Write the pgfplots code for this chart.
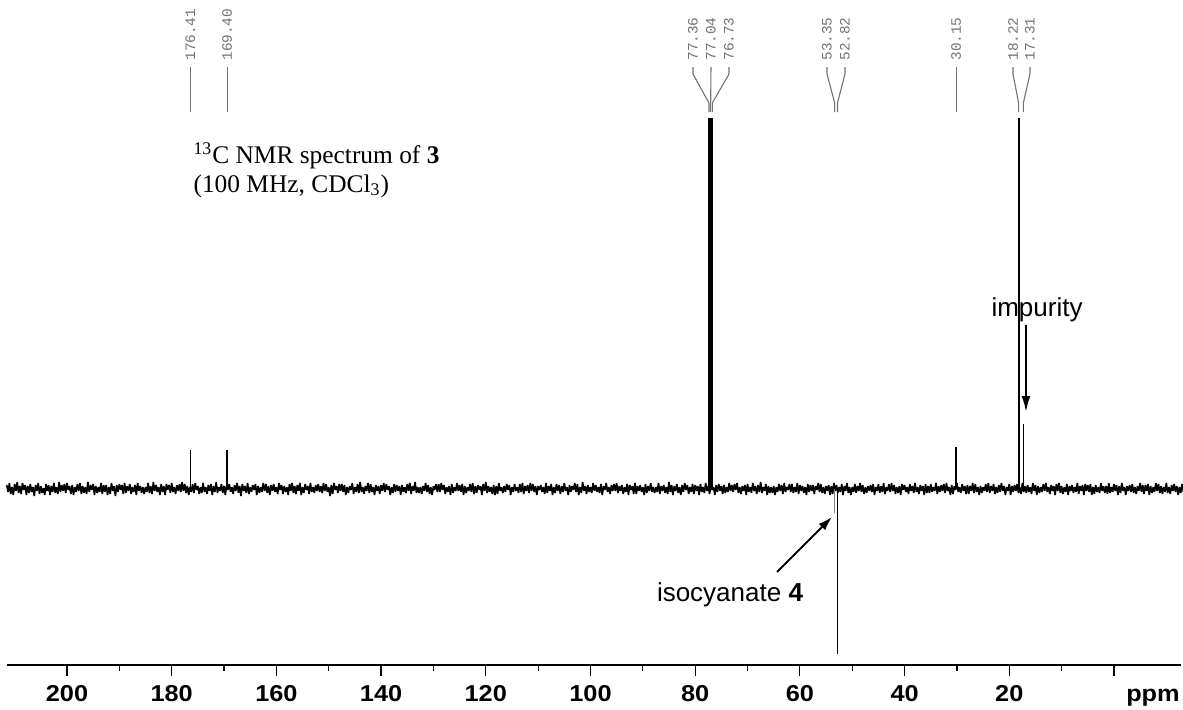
\documentclass[border=0pt]{standalone}
\usepackage{fontspec}
\setmainfont{Liberation Sans}
\newfontfamily\serif{Liberation Serif}
\newfontfamily\monof{Liberation Mono}
\newfontfamily\tickf{Liberation Sans}[FakeStretch=1.1]
\usepackage{pgfplots}
\pgfplotsset{compat=1.18}
\usepackage{pgfplotstable}
\usetikzlibrary{arrows.meta}

% baseline noise, one value every 0.25 ppm from 211.5 ppm downwards
\pgfplotstableread[header=false,row sep=\\]{
4\\-3\\6\\-5\\2\\-6\\5\\-2\\7\\-4\\3\\-5\\6\\-1\\4\\
-6\\3\\-4\\5\\-3\\2\\-7\\4\\-2\\6\\-5\\3\\-4\\1\\-6\\
5\\-2\\4\\-6\\3\\-3\\6\\-4\\2\\-5\\7\\-3\\4\\-2\\5\\
-4\\6\\-1\\3\\-5\\4\\-6\\2\\-3\\5\\-2\\6\\-5\\3\\-4\\
2\\-5\\7\\-3\\4\\-1\\5\\-6\\3\\-4\\2\\-3\\6\\-5\\4\\
-3\\4\\-6\\2\\-5\\6\\-2\\3\\-7\\4\\-3\\5\\-1\\4\\-5\\
6\\-4\\3\\-2\\5\\-5\\2\\-3\\4\\-6\\6\\-2\\3\\-4\\2\\
-5\\2\\-3\\6\\-4\\3\\-5\\7\\-2\\4\\-3\\2\\-6\\5\\-3\\
3\\-6\\5\\-1\\4\\-4\\6\\-3\\2\\-5\\4\\-2\\5\\-3\\7\\
-2\\5\\-4\\3\\-6\\2\\-3\\5\\-4\\6\\-1\\3\\-5\\2\\-4\\
6\\-3\\2\\-5\\4\\-2\\5\\-6\\3\\-3\\7\\-4\\2\\-2\\5\\
-4\\3\\-6\\4\\-1\\5\\-3\\2\\-5\\4\\-2\\6\\-4\\3\\-7\\
5\\-2\\3\\-4\\6\\-5\\2\\-3\\4\\-1\\5\\-6\\3\\-4\\2\\
-3\\6\\-2\\5\\-4\\3\\-6\\4\\-2\\5\\-3\\2\\-5\\6\\-1\\
4\\-5\\3\\-3\\2\\-6\\5\\-2\\6\\-4\\3\\-5\\4\\-2\\6\\
-6\\2\\-4\\5\\-1\\3\\-5\\6\\-3\\2\\-4\\4\\-2\\5\\-3\\
3\\-4\\6\\-2\\5\\-3\\2\\-7\\4\\-5\\6\\-1\\3\\-4\\5\\
-2\\5\\-3\\4\\-6\\2\\-4\\3\\-1\\6\\-5\\2\\-3\\5\\-4\\
7\\-3\\2\\-5\\3\\-2\\6\\-4\\5\\-3\\2\\-6\\4\\-2\\3\\
-5\\4\\-2\\6\\-3\\5\\-1\\3\\-6\\2\\-4\\5\\-3\\4\\-2\\
3\\-6\\4\\-3\\2\\-4\\5\\-2\\6\\-5\\3\\-2\\7\\-4\\2\\
-4\\2\\-5\\3\\-2\\6\\-3\\4\\-5\\2\\-6\\3\\-1\\5\\-3\\
5\\-3\\6\\-1\\4\\-5\\2\\-3\\3\\-6\\5\\-4\\2\\-2\\6\\
-2\\4\\-3\\5\\-6\\3\\-4\\2\\-2\\5\\-3\\6\\-5\\3\\-4\\
4\\-1\\3\\-6\\5\\-2\\7\\-4\\3\\-3\\2\\-5\\4\\-6\\3\\
-5\\6\\-2\\2\\-4\\3\\-3\\5\\-1\\4\\-6\\2\\-3\\5\\-2\\
2\\-4\\5\\-3\\6\\-5\\3\\-2\\4\\-4\\6\\-2\\5\\-3\\3\\
-6\\3\\-1\\4\\-3\\2\\-5\\6\\-4\\3\\-2\\5\\-6\\2\\-4\\
5\\-2\\4\\-5\\3\\-3\\6\\-2\\2\\-6\\4\\-3\\3\\-1\\6\\
-3\\5\\-6\\2\\-4\\7\\-2\\3\\-5\\4\\-3\\2\\-4\\6\\-2\\
4\\-3\\2\\-4\\5\\-6\\3\\-1\\6\\-3\\2\\-5\\4\\-2\\5\\
-2\\6\\-4\\3\\-2\\4\\-5\\2\\-3\\5\\-6\\4\\-1\\3\\-5\\
6\\-5\\3\\-2\\4\\-3\\2\\-6\\5\\-4\\3\\-2\\6\\-3\\2\\
-4\\2\\-3\\6\\-5\\3\\-2\\4\\-4\\2\\-5\\7\\-3\\4\\-6\\
3\\-2\\5\\-4\\2\\-6\\4\\-3\\6\\-1\\4\\-5\\2\\-3\\5\\
-5\\4\\-2\\3\\-6\\5\\-3\\2\\-4\\6\\-2\\3\\-5\\4\\-1\\
2\\-6\\4\\-3\\5\\-2\\3\\-5\\4\\-4\\2\\-3\\6\\-2\\4\\
-3\\5\\-1\\6\\-4\\2\\-5\\3\\-2\\4\\-6\\5\\-3\\2\\-4\\
6\\-2\\3\\-5\\4\\-3\\7\\-4\\2\\-2\\5\\-6\\3\\-4\\2\\
-4\\3\\-6\\2\\-3\\5\\-2\\4\\-5\\6\\-3\\2\\-1\\5\\-3\\
5\\-4\\2\\-3\\6\\-5\\4\\-2\\3\\-4\\2\\-6\\5\\-3\\4\\
-2\\4\\-5\\3\\-1\\6\\-3\\5\\-4\\2\\-5\\3\\-2\\4\\-6\\
3\\-5\\6\\-2\\4\\-4\\2\\-3\\5\\-6\\3\\-2\\6\\-4\\2\\
-6\\2\\-3\\5\\-4\\3\\-2\\6\\-3\\4\\-5\\2\\-4\\3\\-2\\
4\\-3\\5\\-6\\2\\-2\\5\\-4\\3\\-3\\6\\-5\\2\\-2\\5\\
-3\\6\\-2\\4\\-5\\2\\-4\\3\\-6\\5\\-1\\4\\-3\\2\\-5\\
5\\-2\\3\\-4\\6\\-3\\2\\-5\\4\\-2\\3\\-6\\5\\-4\\3\\
-4\\5\\-3\\2\\-2\\6\\-5\\3\\-3\\4\\-2\\5\\-4\\6\\-2\\
2\\-6\\4\\-5\\3\\-1\\6\\-3\\2\\-4\\5\\-2\\3\\-5\\4\\
-5\\3\\-2\\6\\-4\\5\\-3\\2\\-6\\3\\-4\\2\\-2\\5\\-3\\
6\\-4\\3\\-2\\5\\-5\\2\\-4\\4\\-3\\6\\-2\\3\\-6\\2\\
-2\\5\\-6\\3\\-3\\4\\-2\\5\\-4\\2\\-5\\6\\-3\\3\\-4\\
4\\-3\\2\\-5\\6\\-2\\4\\-6\\3\\-4\\2\\-3\\5\\-2\\6\\
-3\\2\\-5\\4\\-2\\3\\-6\\5\\-2\\6\\-4\\3\\-5\\2\\-3\\
5\\-6\\3\\-2\\4\\-4\\2\\-3\\6\\-5\\3\\-2\\4\\-6\\5\\
-2\\4\\-3\\5\\-6\\2\\-5\\4\\-3\\2\\-4\\6\\-2\\3\\-4\\
3\\-5\\6\\-4\\2\\-3\\5\\-2\\4\\-6\\3\\-4\\6\\-2\\2\\
-6\\3\\-2\\4\\-3\\5\\-4\\2\\-5\\3\\-2\\6\\-3\\4\\-5\\
4\\-2\\5\\-6\\3\\-4\\2\\-3\\6\\-2\\5\\-4\\3\\-5\\2\\
-3\\6\\-4\\2\\-5\\4\\-2\\5\\-3\\3\\-6\\2\\-4\\5\\-3\\
}\noise

\begin{document}
\begin{tikzpicture}
\begin{axis}[name=ax, scale only axis, width=587pt, height=332.5pt,
  x dir=reverse, xmin=-12.8, xmax=211.46, ymin=-176, ymax=489,
  axis x line=bottom, axis y line=none,
  axis line style={-, line width=0.6pt},
  xtick={0,20,...,200},
  xticklabels={{},20,40,60,80,100,120,140,160,180,200},
  minor x tick num=1, tick align=outside,
  major tick length=5.5pt, minor tick length=3pt,
  tick style={black, line width=0.6pt},
  xticklabel style={font=\tickf\bfseries\fontsize{11.5}{13}\selectfont, yshift=-1pt},
  clip=false]

% spectrum baseline
\addplot[black, line width=0.8pt, mark=none, line join=bevel] table[x expr=211.5-0.25*\coordindex, y index=0]{\noise};

% peaks
\addplot[black, line width=0.8pt] coordinates {(176.41,0) (176.41,39)};
\addplot[black, line width=0.8pt] coordinates {(169.40,0) (169.40,39)};
\addplot[black, line width=1.1pt] coordinates {(77.36,0) (77.36,371)};
\addplot[black, line width=1.1pt] coordinates {(77.04,0) (77.04,371)};
\addplot[black, line width=1.1pt] coordinates {(76.73,0) (76.73,371)};
\addplot[gray, line width=0.8pt] coordinates {(53.35,0) (53.35,-24)};
\addplot[black, line width=0.85pt] coordinates {(52.82,0) (52.82,-165)};
\addplot[black, line width=0.8pt] coordinates {(30.15,0) (30.15,42)};
\addplot[black, line width=0.9pt] coordinates {(18.22,0) (18.22,371)};
\addplot[black, line width=0.8pt] coordinates {(17.31,0) (17.31,65)};

% peak labels
\begin{scope}[every node/.style={rotate=90, anchor=west, inner sep=0pt, text=gray!90!black, font=\monof\fontsize{7.2}{8}\selectfont}]
\node at (axis cs:176.41,428) {176.41};
\node at (axis cs:169.40,428) {169.40};
\node at (axis cs:80.42,428) {77.36};
\node at (axis cs:76.98,428) {77.04};
\node at (axis cs:73.54,428) {76.73};
\node at (axis cs:54.82,428) {53.35};
\node at (axis cs:51.39,428) {52.82};
\node at (axis cs:30.15,428) {30.15};
\node at (axis cs:19.29,428) {18.22};
\node at (axis cs:16.05,428) {17.31};
\end{scope}
\begin{scope}[gray!90!black, line width=0.55pt]
\draw (axis cs:176.41,422) -- (axis cs:176.41,377);
\draw (axis cs:169.40,422) -- (axis cs:169.40,377);
\draw (axis cs:30.15,422) -- (axis cs:30.15,377);
\draw (axis cs:80.42,422) -- (axis cs:80.42,415) -- (axis cs:77.36,386) -- (axis cs:77.36,377);
\draw (axis cs:76.98,422) -- (axis cs:77.04,386) -- (axis cs:77.04,377);
\draw (axis cs:73.54,422) -- (axis cs:73.54,415) -- (axis cs:76.73,386) -- (axis cs:76.73,377);
\draw (axis cs:54.82,422) -- (axis cs:54.82,415) -- (axis cs:53.35,386) -- (axis cs:53.35,377);
\draw (axis cs:51.39,422) -- (axis cs:51.39,415) -- (axis cs:52.82,386) -- (axis cs:52.82,377);
\draw (axis cs:19.29,422) -- (axis cs:19.29,415) -- (axis cs:18.22,386) -- (axis cs:18.22,377);
\draw (axis cs:16.05,422) -- (axis cs:16.05,415) -- (axis cs:17.31,386) -- (axis cs:17.31,377);
\end{scope}

% annotations
\node[anchor=base west, inner sep=0pt, font=\serif\fontsize{12.7}{14}\selectfont] at (axis cs:175.9,326) {\textsuperscript{13}C NMR spectrum of \textbf{3}};
\node[anchor=base west, inner sep=0pt, font=\serif\fontsize{12.7}{14}\selectfont] at (axis cs:175.9,297) {(100 MHz, CDCl\textsubscript{3})};
\node[anchor=base, inner sep=0pt, font=\fontsize{13}{15}\selectfont] at (axis cs:14.7,173) {impurity};
\draw[line width=1pt, -{Latex[length=8pt,width=4.5pt]}] (axis cs:16.81,164) -- (axis cs:16.81,77);
\node[anchor=base, inner sep=0pt, font=\fontsize{13}{15}\selectfont] at (axis cs:73.35,-112) {isocyanate \textbf{4}};
\draw[line width=1pt, -{Latex[length=7pt,width=4.5pt]}] (axis cs:64.37,-83) -- (axis cs:53.87,-28);
\node[anchor=base, inner sep=0pt, font=\tickf\bfseries\fontsize{11.5}{13}\selectfont] at (axis cs:-7.45,-176) [yshift=-18pt] {ppm};
\end{axis}
\pgfresetboundingbox
\path (ax.south west) ++(-3.5pt,-22pt) rectangle ([xshift=1pt]ax.north east);
\end{tikzpicture}
\end{document}
